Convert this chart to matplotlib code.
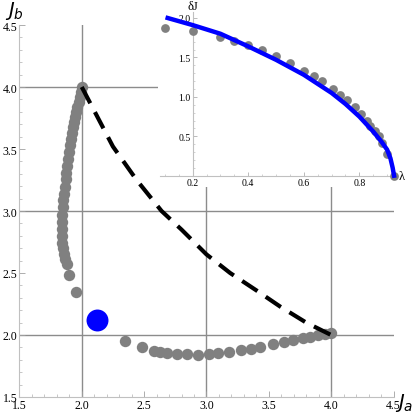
import matplotlib
matplotlib.use('Agg')
import matplotlib.pyplot as plt
from matplotlib.patches import Rectangle
from matplotlib.ticker import MultipleLocator, FormatStrFormatter

# main panel: grey dots (left branch from (2,4) down, then bottom branch to (4,2))
left_x = [2.00, 1.994, 1.986, 1.976, 1.964, 1.954, 1.946, 1.938, 1.930, 1.920,
          1.912, 1.906, 1.900, 1.892, 1.884, 1.877, 1.870, 1.862, 1.856, 1.851,
          1.847, 1.844, 1.842, 1.841, 1.842, 1.845, 1.850, 1.858, 1.867, 1.878,
          1.900, 1.954]
left_y = [4.00, 3.956, 3.916, 3.876, 3.836, 3.796, 3.756, 3.716, 3.676, 3.630,
          3.580, 3.530, 3.475, 3.420, 3.365, 3.310, 3.255, 3.195, 3.140, 3.085,
          3.030, 2.970, 2.910, 2.855, 2.800, 2.745, 2.700, 2.650, 2.610, 2.575,
          2.481, 2.348]
bottom_x = [2.349, 2.481, 2.579, 2.628, 2.681, 2.761, 2.847, 2.935, 3.023, 3.095,
            3.178, 3.275, 3.355, 3.429, 3.531, 3.622, 3.697, 3.772, 3.830, 3.897,
            3.951, 3.999]
bottom_y = [1.951, 1.903, 1.871, 1.863, 1.858, 1.850, 1.845, 1.842, 1.845, 1.853,
            1.863, 1.877, 1.890, 1.903, 1.925, 1.943, 1.960, 1.973, 1.987, 2.000,
            2.008, 2.013]

# dashed path from (2,4) to (4,2)
dash_x = [2.00, 2.12, 2.25, 2.44, 2.64, 2.80, 3.00, 3.19, 3.40, 3.59, 3.80, 4.00]
dash_y = [4.00, 3.77, 3.52, 3.25, 3.00, 2.85, 2.65, 2.50, 2.36, 2.23, 2.10, 2.00]

# blue point
blue_x = [2.12]
blue_y = [2.125]

# inset: dots and fitted curve
lam_pts = [0.1, 0.2, 0.3, 0.35, 0.4, 0.45, 0.5, 0.55, 0.6, 0.635, 0.665, 0.705,
           0.732, 0.756, 0.783, 0.807, 0.828, 0.840, 0.855, 0.869, 0.882, 0.898, 0.924]
dj_pts = [1.874, 1.832, 1.764, 1.713, 1.662, 1.599, 1.514, 1.430, 1.332, 1.269,
          1.201, 1.100, 1.028, 0.964, 0.867, 0.783, 0.698, 0.635, 0.571, 0.499,
          0.415, 0.275, 0.0]
lam_curve = [0.11, 0.2, 0.3, 0.4, 0.5, 0.6, 0.7, 0.75, 0.8, 0.85, 0.88, 0.90,
             0.912, 0.92, 0.925]
dj_curve = [2.0, 1.91, 1.80, 1.64, 1.47, 1.28, 1.05, 0.91, 0.75, 0.56, 0.43,
            0.33, 0.22, 0.10, 0.0]

W, H = 415, 414
fig = plt.figure(figsize=(W / 100, H / 100), dpi=100)
serif = 'Liberation Serif'
axis_col = '#c0c0c0'
grid_col = '#8c8c8c'

ax = fig.add_axes([19.4 / W, 16 / H, 374.1 / W, 372 / H])
ax.set_xlim(1.5, 4.5)
ax.set_ylim(1.5, 4.5)
for s in ['top', 'right']:
    ax.spines[s].set_visible(False)
for s in ['left', 'bottom']:
    ax.spines[s].set_color(axis_col)
    ax.spines[s].set_linewidth(0.8)
ax.xaxis.set_major_locator(MultipleLocator(0.5))
ax.yaxis.set_major_locator(MultipleLocator(0.5))
ax.xaxis.set_minor_locator(MultipleLocator(0.1))
ax.yaxis.set_minor_locator(MultipleLocator(0.1))
ax.tick_params(which='major', direction='in', length=4, width=0.6, color='#a0a0a0',
               labelsize=8.5, pad=1.5)
ax.tick_params(which='minor', direction='in', length=2, width=0.5, color='#b0b0b0')
for lab in ax.get_xticklabels() + ax.get_yticklabels():
    lab.set_family(serif)
ax.xaxis.set_major_formatter(FormatStrFormatter('%.1f'))
ax.yaxis.set_major_formatter(FormatStrFormatter('%.1f'))

for g in [2.0, 3.0, 4.0]:
    ax.axvline(g, color=grid_col, lw=1.0, zorder=1)
    ax.axhline(g, color=grid_col, lw=1.0, zorder=1)

ax.plot(left_x, left_y, 'o', color='#808080', ms=8.2, mec='none', zorder=3)
ax.plot(bottom_x, bottom_y, 'o', color='#808080', ms=8.2, mec='none', zorder=3)
ax.plot(dash_x, dash_y, color='black', lw=3.0, dashes=(4.4, 2.4), zorder=4)
ax.plot(blue_x, blue_y, 'o', color='#0000ff', ms=15.8, mec='none', zorder=4)

fig.text(14 / W, 1 - 11 / H, '$J_b$', fontsize=14, ha='center', va='center')
fig.text(404 / W, 1 - 403 / H, '$J_a$', fontsize=14, ha='center', va='center')

# white backing for the inset
fig.patches.append(Rectangle((158 / W, 1 - 188 / H), 1 - 158 / W, 188 / H,
                             transform=fig.transFigure, facecolor='white',
                             edgecolor='none', zorder=1))

ins = fig.add_axes([160 / W, (H - 176.7) / H, 237 / W, 163.7 / H], zorder=2)
ins.patch.set_alpha(0)
ins.set_xlim(0.0824, 0.9356)
ins.set_ylim(0, 2.076)
for s in ['top', 'right']:
    ins.spines[s].set_visible(False)
ins.spines['left'].set_position(('data', 0.2))
for s in ['left', 'bottom']:
    ins.spines[s].set_color(axis_col)
    ins.spines[s].set_linewidth(0.8)
ins.set_xticks([0.2, 0.4, 0.6, 0.8])
ins.set_yticks([0.5, 1.0, 1.5, 2.0])
ins.xaxis.set_minor_locator(MultipleLocator(0.05))
ins.yaxis.set_minor_locator(MultipleLocator(0.1))
ins.tick_params(which='major', direction='in', length=3, width=0.5, color='#a0a0a0',
                labelsize=7, pad=1.5)
ins.tick_params(which='minor', direction='in', length=1.5, width=0.4, color='#b0b0b0')
ins.set_xticklabels(['0.2', '0.4', '0.6', '0.8'], family=serif)
ins.set_yticklabels(['0.5', '1.0', '1.5', '2.0'], family=serif)

ins.plot(lam_pts, dj_pts, 'o', color='#808080', ms=6.3, mec='none', clip_on=False, zorder=3)
ins.plot(lam_curve, dj_curve, color='#0000ff', lw=3.2, clip_on=False, zorder=4)
ins.text(0.2, 2.08, 'δJ', family=serif, fontsize=9, ha='center', va='bottom')
ins.text(0.943, 0, 'λ', family=serif, fontsize=9, ha='left', va='center')

fig.savefig('out.png', dpi=100)
